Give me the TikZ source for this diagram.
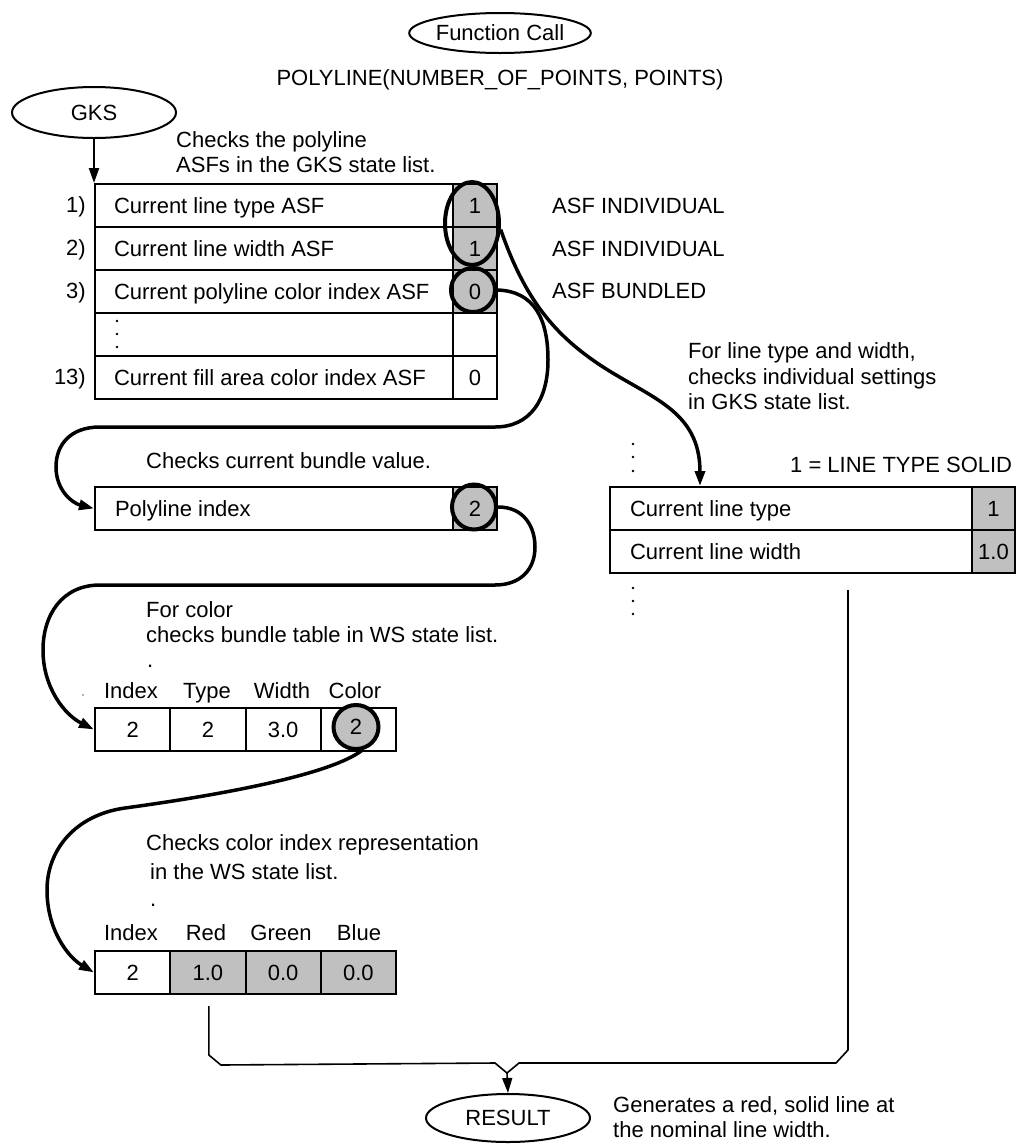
\documentclass[tikz,border=0pt]{standalone}
\usepackage{fontspec}
\setmainfont{Liberation Sans}
\usetikzlibrary{shapes.geometric,arrows.meta,calc}
\definecolor{gcol}{HTML}{C0C0C0}
\newcommand\celltext[2]{\makebox[#1][l]{#2}}
\tikzset{
  arr/.style={-{Triangle[length=15pt,width=10pt]}},
  conn/.style={line width=3.5pt},
  thinln/.style={line width=1.6pt},
  oval/.style={draw, ellipse, line width=2pt, inner sep=0pt},
  ring/.style={draw, ellipse, line width=4pt, inner sep=0pt},
  tcell/.style={draw, line width=2pt, minimum height=43pt, inner ysep=0pt,
    inner xsep=#1, anchor=north west, text height=18pt, text depth=3pt},
  gcell/.style={draw, line width=2pt, fill=gcol, minimum width=#1, minimum height=43pt,
    inner sep=0pt, anchor=north west, text height=18pt, text depth=3pt},
  wcell/.style={draw, line width=2pt, minimum width=75.25pt, minimum height=43pt,
    inner sep=0pt, anchor=north west, text height=18pt, text depth=3pt},
  lbl/.style={anchor=base west, inner sep=0pt},
  hdr/.style={anchor=base, inner sep=0pt},
  rlab/.style={anchor=base east, inner sep=0pt},
  dotc/.style={fill=black},
}
\begin{document}
\begin{tikzpicture}[x=1pt, y=-1pt, font=\fontsize{22}{25.5}\selectfont]
\useasboundingbox (0,0) rectangle (1021,1144);

% top
\node[oval, minimum width=150pt, minimum height=40pt] (fc) at (500,33) {Function Call};
\node[hdr] (poly) at (500,85) {POLYLINE(NUMBER\_OF\_POINTS, POINTS)};
\node[oval, minimum width=164pt, minimum height=51pt] (gks) at (94,112.5) {GKS};
\node[lbl] (chk1) at (176,147) {Checks the polyline};
\node[lbl] (chk2) at (176,172) {ASFs in the GKS state list.};

% table 1
\node[tcell=19pt] (r1) at (94,183) {\celltext{320pt}{Current line type ASF}};
\node[tcell=19pt] (r2) at (94,226) {\celltext{320pt}{Current line width ASF}};
\node[tcell=19pt] (r3) at (94,269) {\celltext{320pt}{Current polyline color index ASF}};
\node[tcell=19pt] (r4) at (94,312) {\celltext{320pt}{}};
\node[tcell=19pt] (r5) at (94,355) {\celltext{320pt}{Current fill area color index ASF}};
\node[gcell=44pt] (v1) at (452,183) {1};
\node[gcell=44pt] (v2) at (452,226) {1};
\node[gcell=44pt] (v3) at (452,269) {0};
\node[gcell=44pt, fill=white] (v4) at (452,312) {};
\node[gcell=44pt, fill=white] (v5) at (452,355) {0};
\fill[dotc] (117,321) circle (1.4pt) (117,334) circle (1.4pt) (117,347) circle (1.4pt);
\node[rlab] (l1) at (86,212) {1)};
\node[rlab] (l2) at (86,255) {2)};
\node[rlab] (l3) at (86,298) {3)};
\node[rlab] (l13) at (86,384) {13)};
\node[ring, minimum width=54pt, minimum height=83pt] (ellA) at (472,223.5) {};
\node[ring, minimum width=44pt, minimum height=44pt] (ring0) at (473,290) {};
\node[lbl] (asf1) at (552,213) {ASF INDIVIDUAL};
\node[lbl] (asf2) at (552,256) {ASF INDIVIDUAL};
\node[lbl] (asf3) at (552,298) {ASF BUNDLED};

\draw[arr, line width=2pt] (gks) -- (r1.north west);

% right table
\node[lbl] (ft1) at (688,358) {For line type and width,};
\node[lbl] (ft2) at (688,384) {checks individual settings};
\node[lbl] (ft3) at (688,409) {in GKS state list.};
\node[lbl] (solid) at (790,472) {1 = LINE TYPE SOLID};
\node[tcell=20pt] (q1) at (609,486) {\celltext{322pt}{Current line type}};
\node[tcell=20pt] (q2) at (609,529) {\celltext{322pt}{Current line width}};
\node[gcell=43pt] (qv1) at (971,486) {1};
\node[gcell=43pt] (qv2) at (971,529) {1.0};
\fill[dotc] (633,444) circle (1.4pt) (633,457) circle (1.4pt) (633,471) circle (1.4pt);
\fill[dotc] (633,588) circle (1.4pt) (633,601) circle (1.4pt) (633,614) circle (1.4pt);

% polyline index
\node[lbl] (cb) at (146,468) {Checks current bundle value.};
\node[tcell=20pt] (p1) at (94,486) {\celltext{318pt}{Polyline index}};
\node[gcell=44pt] (p2) at (452,486) {2};
\node[ring, minimum width=44pt, minimum height=45pt] (ring2) at (474,507) {};

% bundle table
\node[lbl] (fc1) at (146,617) {For color};
\node[lbl] (fc2) at (146,642) {checks bundle table in WS state list.};
\node[lbl] (fc3) at (147,667) {.};
\fill[black!60] (83,695) circle (0.9pt);
\node[hdr] (h1) at (131,698) {Index};
\node[hdr] (h2) at (207,698) {Type};
\node[hdr] (h3) at (282,698) {Width};
\node[hdr] (h4) at (355,698) {Color};
\node[wcell] (b1) at (94,707) {2};
\node[wcell] (b2) at (169.25,707) {2};
\node[wcell] (b3) at (244.5,707) {3.0};
\node[wcell] (b4) at (319.75,707) {};
\node[ring, fill=gcol, minimum width=45pt, minimum height=44pt, text height=18pt, text depth=3pt] (ring3) at (356,727) {2};

% colour table
\node[lbl] (cc1) at (146,850) {Checks color index representation};
\node[lbl] (cc2) at (150,879) {in the WS state list.};
\node[lbl] (cc3) at (150,906) {.};
\node[hdr] (k1) at (131,940) {Index};
\node[hdr] (k2) at (206,940) {Red};
\node[hdr] (k3) at (281,940) {Green};
\node[hdr] (k4) at (359,940) {Blue};
\node[wcell] (c1) at (94,950) {2};
\node[wcell, fill=gcol] (c2) at (169.25,950) {1.0};
\node[wcell, fill=gcol] (c3) at (244.5,950) {0.0};
\node[wcell, fill=gcol] (c4) at (319.75,950) {0.0};

% result
\node[oval, minimum width=164pt, minimum height=48pt] (res) at (508,1118) {RESULT};
\node[lbl] (g1) at (613,1112) {Generates a red, solid line at};
\node[lbl] (g2) at (613,1137) {the nominal line width.};

% connectors
\draw[conn, arr] (ellA.-12) .. controls (525,300) and (555,335) .. (600,365)
   .. controls (650,398) and (700,410) .. ($(q1.north west)+(91,0)$);
\draw[conn, arr] (ring0.east) .. controls (535,291) and (548,320) .. (548,360)
   .. controls (548,400) and (530,427) .. (495,427) -- (100,427)
   .. controls (70,427) and (56,445) .. (56,467)
   .. controls (56,490) and (72,503) .. (p1.west);
\draw[conn, arr] (ring2.east) .. controls (525,507) and (535,528) .. (535,547)
   .. controls (535,570) and (520,585) .. (495,585) -- (100,585)
   .. controls (62,585) and (43,615) .. (43,650)
   .. controls (43,688) and (65,715) .. (b1.west);
\draw[conn, arr] (ring3.-75) .. controls (330,775) and (220,795) .. (125,808)
   .. controls (75,815) and (47,850) .. (47,890)
   .. controls (47,930) and (68,957) .. (c1.west);

\coordinate (m) at (507,1073);
\draw[thinln] ($(c2.south)+(1,11)$) -- ++(0,49) -- ++(12,10) -- (495,1063) -- (m);
\draw[thinln] ($(q2.south west)+(239,16)$) -- (848,1050) -- (836,1063) -- (519,1063) -- (m);
\draw[thinln, arr] (m) -- (res.north);
\end{tikzpicture}
\end{document}
